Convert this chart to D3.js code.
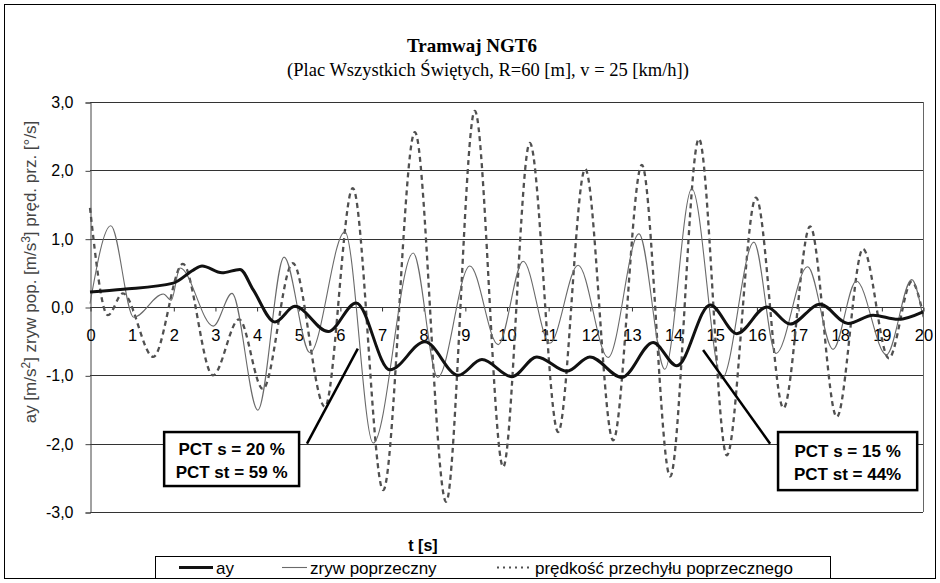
<!DOCTYPE html>
<html>
<head>
<meta charset="utf-8">
<script src="https://cdn.jsdelivr.net/npm/d3@7"></script>
<style>
  body { margin: 0; background: #fff; }
  text { font-family: "Liberation Sans", Arial, sans-serif; }
</style>
</head>
<body>
<script>
// time values and series (extrema mostly)
var ayT = [0, 0.8, 2.0, 2.48, 2.69, 3.17, 3.6, 3.92, 4.44, 4.92, 5.72, 6.39, 7.2, 8.04, 8.84, 9.41, 10.13, 10.73, 11.45, 12.0, 12.77, 13.52, 14.09, 14.89, 15.53, 16.25, 16.81, 17.53, 18.2, 18.8, 19.4, 20];
var ayV = [0.22, 0.26, 0.35, 0.54, 0.6, 0.5, 0.55, 0.25, -0.22, 0.01, -0.36, 0.06, -0.92, -0.51, -1.0, -0.77, -1.02, -0.73, -0.94, -0.73, -1.03, -0.52, -0.86, 0.03, -0.39, 0.0, -0.25, 0.04, -0.24, -0.12, -0.18, -0.07];

var zrywT = [0, 0.5, 1.05, 1.76, 1.95, 2.16, 2.96, 3.41, 4.03, 4.66, 5.28, 6.12, 6.8, 7.76, 8.35, 9.12, 9.8, 10.4, 11.04, 11.72, 12.44, 13.18, 13.8, 14.45, 15.17, 15.94, 16.47, 17.23, 17.84, 18.4, 19.12, 19.73, 20];
var zrywV = [0.05, 1.19, -0.15, 0.19, 0.1, 0.57, -0.28, 0.2, -1.51, 0.73, -0.67, 1.1, -1.99, 0.79, -1.03, 0.6, -0.55, 0.67, -0.53, 0.61, -0.74, 1.07, -0.91, 1.73, -1.05, 0.95, -0.68, 0.59, -0.62, 0.38, -0.7, 0.4, -0.15];

var predT = [0, 0.43, 0.79, 1.52, 2.23, 2.95, 3.58, 4.15, 4.87, 5.64, 6.31, 7.04, 7.8, 8.55, 9.24, 9.92, 10.56, 11.24, 11.89, 12.56, 13.25, 13.93, 14.62, 15.29, 15.99, 16.65, 17.29, 17.93, 18.56, 19.18, 19.73, 20];
var predV = [1.45, -0.12, 0.2, -0.73, 0.63, -1.0, -0.18, -1.2, 0.64, -1.46, 1.74, -2.68, 2.56, -2.85, 2.87, -2.34, 2.4, -1.83, 2.02, -1.95, 2.08, -2.48, 2.46, -2.17, 1.6, -1.48, 1.18, -1.61, 0.85, -0.75, 0.37, -0.1];

var xTicks = d3.range(0, 21);
var yTicks = [3, 2, 1, 0, -1, -2, -3];
var legendNames = ["ay", "zryw poprzeczny", "prędkość przechyłu poprzecznego"];

// annotation boxes (data coords): box corners, pointer line start/end, text lines
var notes = [
  { x0: 1.78, x1: 5.02, y0: -1.83, y1: -2.62, lx0: 5.21, ly0: -2.0, lx1: 6.43, ly1: -0.61, lines: ["PCT s = 20 %", "PCT st = 59 %"] },
  { x0: 16.52, x1: 19.86, y0: -1.83, y1: -2.68, lx0: 16.33, ly0: -2.0, lx1: 14.72, ly1: -0.63, lines: ["PCT s = 15 %", "PCT st = 44%"] }
];

var width = 940, height = 583;
var pLeft = 90, pRight = 923, pTop = 102, pBottom = 512;

var svg = d3.select("body").append("svg")
  .attr("width", width)
  .attr("height", height);

// outer frame
svg.append("rect")
  .attr("x", 4.5).attr("y", 4.5)
  .attr("width", 931).attr("height", 574)
  .attr("fill", "none").attr("stroke", "#000");

var xScale = d3.scaleLinear().domain([0, 20]).range([pLeft, pRight]);
var yScale = d3.scaleLinear().domain([-3, 3]).range([pBottom, pTop]);

// titles
svg.append("text")
  .attr("x", 472).attr("y", 52)
  .attr("text-anchor", "middle")
  .style("font-family", "'Liberation Serif', 'Times New Roman', serif")
  .style("font-weight", "bold").style("font-size", "19px")
  .text("Tramwaj NGT6");
svg.append("text")
  .attr("x", 488).attr("y", 76)
  .attr("text-anchor", "middle")
  .style("font-family", "'Liberation Serif', 'Times New Roman', serif")
  .style("font-size", "18.5px")
  .text("(Plac Wszystkich Świętych, R=60 [m], v = 25 [km/h])");

// gridlines
svg.append("g").selectAll("line")
  .data(yTicks)
  .join("line")
  .attr("x1", pLeft).attr("x2", pRight)
  .attr("y1", d => Math.round(yScale(d)) + 0.5)
  .attr("y2", d => Math.round(yScale(d)) + 0.5)
  .attr("stroke", "#333").attr("stroke-width", 1);

// plot border (right side) and y axis
svg.append("line")
  .attr("x1", pRight + 0.5).attr("x2", pRight + 0.5)
  .attr("y1", pTop).attr("y2", pBottom)
  .attr("stroke", "#666");

var yAxis = d3.axisLeft(yScale)
  .tickValues(yTicks)
  .tickSize(5)
  .tickFormat(d => d3.format(".1f")(d).replace(".", ",").replace("−", "-"));
var yg = svg.append("g")
  .attr("transform", "translate(" + (pLeft + 0.5) + ",0.5)")
  .call(yAxis);
yg.select(".domain").attr("stroke", "#444");
yg.selectAll(".tick line").attr("stroke", "#444");
yg.selectAll("text")
  .attr("x", -17)
  .style("font-size", "16px")
  .style("font-family", "'Liberation Sans', Arial, sans-serif")
  .attr("fill", "#000");

// x axis on the zero line
var xAxis = d3.axisBottom(xScale)
  .tickValues(xTicks)
  .tickSize(4)
  .tickFormat(d3.format("d"));
var xg = svg.append("g")
  .attr("transform", "translate(0.5," + (Math.round(yScale(0)) + 0.5) + ")")
  .call(xAxis);
xg.select(".domain").remove();
xg.selectAll(".tick line").attr("stroke", "#333");
xg.selectAll("text")
  .attr("y", 22)
  .style("font-size", "16.5px")
  .style("font-family", "'Liberation Sans', Arial, sans-serif")
  .attr("fill", "#000");

// axis titles
svg.append("text")
  .attr("transform", "translate(36,272) rotate(-90)")
  .attr("text-anchor", "middle")
  .style("font-size", "17px")
  .attr("fill", "#444")
  .html("ay [m/s<tspan dy='-6' font-size='12px'>2</tspan><tspan dy='6'>] zryw pop. [m/s</tspan><tspan dy='-6' font-size='12px'>3</tspan><tspan dy='6'>] pręd. prz. [°/s]</tspan>");

svg.append("text")
  .attr("x", 423).attr("y", 551)
  .attr("text-anchor", "middle")
  .style("font-size", "16px").style("font-weight", "bold")
  .text("t [s]");

// series
var line = d3.line()
  .x(d => xScale(d[0]))
  .y(d => yScale(d[1]))
  .curve(d3.curveMonotoneX);

var plot = svg.append("g");

plot.append("path")
  .datum(predT.map((t, i) => [t, predV[i]]))
  .attr("d", line)
  .attr("fill", "none")
  .attr("stroke", "#505050")
  .attr("stroke-width", 2.3)
  .attr("stroke-dasharray", "5,4");

plot.append("path")
  .datum(zrywT.map((t, i) => [t, zrywV[i]]))
  .attr("d", line)
  .attr("fill", "none")
  .attr("stroke", "#6a6a6a")
  .attr("stroke-width", 1.1);

plot.append("path")
  .datum(ayT.map((t, i) => [t, ayV[i]]))
  .attr("d", line)
  .attr("fill", "none")
  .attr("stroke", "#111")
  .attr("stroke-width", 3);

// annotations
var ng = svg.append("g").selectAll("g").data(notes).join("g");
ng.append("line")
  .attr("x1", d => xScale(d.lx0)).attr("y1", d => yScale(d.ly0))
  .attr("x2", d => xScale(d.lx1)).attr("y2", d => yScale(d.ly1))
  .attr("stroke", "#000").attr("stroke-width", 2.5);
ng.append("rect")
  .attr("x", d => xScale(d.x0)).attr("y", d => yScale(d.y0))
  .attr("width", d => xScale(d.x1) - xScale(d.x0))
  .attr("height", d => yScale(d.y1) - yScale(d.y0))
  .attr("fill", "#fff").attr("stroke", "#000").attr("stroke-width", 2.5);
ng.each(function(d) {
  var cx = (xScale(d.x0) + xScale(d.x1)) / 2;
  var cy = (yScale(d.y0) + yScale(d.y1)) / 2;
  d3.select(this).selectAll("text.n")
    .data(d.lines)
    .join("text")
    .attr("x", cx)
    .attr("y", (s, i) => cy - 4 + i * 23)
    .attr("text-anchor", "middle")
    .style("font-size", "17px").style("font-weight", "bold")
    .text(s => s);
});

// legend
var lg = svg.append("g");
lg.append("rect")
  .attr("x", 155.5).attr("y", 556.5)
  .attr("width", 675).attr("height", 22)
  .attr("fill", "#fff").attr("stroke", "#000");

var legendItems = [
  { x: 179, w: 34, name: legendNames[0], color: "#111", sw: 3, dash: null },
  { x: 282, w: 25, name: legendNames[1], color: "#6a6a6a", sw: 1.1, dash: null },
  { x: 497, w: 35, name: legendNames[2], color: "#505050", sw: 2, dash: "2,4" }
];
legendItems.forEach(function(it) {
  lg.append("line")
    .attr("x1", it.x).attr("x2", it.x + it.w)
    .attr("y1", 567.5).attr("y2", 567.5)
    .attr("stroke", it.color).attr("stroke-width", it.sw)
    .attr("stroke-dasharray", it.dash);
  lg.append("text")
    .attr("x", it.x + it.w + 3).attr("y", 573.5)
    .style("font-size", "17px")
    .text(it.name);
});
</script>
</body>
</html>
